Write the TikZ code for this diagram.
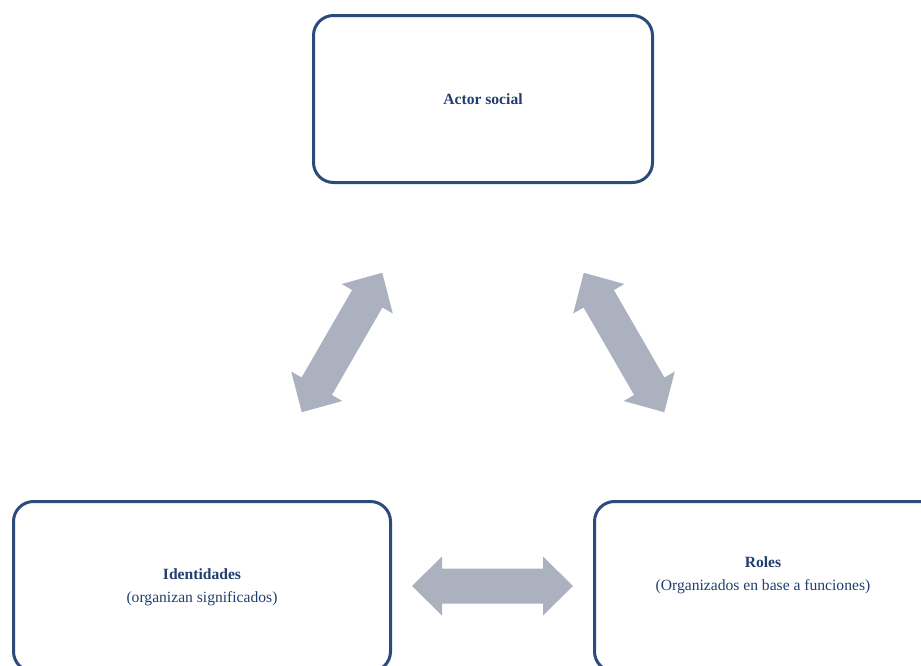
\documentclass[tikz,border=0pt]{standalone}
\usepackage{fontspec}
\setmainfont{Liberation Serif}
\definecolor{boxline}{HTML}{2C4B7B}
\definecolor{txt}{HTML}{213F6E}
\definecolor{arrowfill}{HTML}{ACB1BF}
\tikzset{
  roundbox/.style={draw=boxline, line width=3pt, rounded corners=20pt, fill=white, inner sep=0pt},
  lbl/.style={text=txt, align=center, font=\fontsize{15.6}{23}\selectfont, inner sep=0pt},
  dblarrow/.pic={
    \fill[arrowfill] (-80.5,0) -- (-50.5,29.5) -- (-50.5,17.5) -- (50.5,17.5) -- (50.5,29.5)
      -- (80.5,0) -- (50.5,-29.5) -- (50.5,-17.5) -- (-50.5,-17.5) -- (-50.5,-29.5) -- cycle;
  }
}
\begin{document}
\begin{tikzpicture}[x=1pt,y=1pt]
\useasboundingbox (0,0) rectangle (921,-665);
\clip (0,0) rectangle (921,-665);
% boxes
\node[roundbox, minimum width=339pt, minimum height=167pt] (actor) at (483,-99) {};
\node[roundbox, minimum width=377pt, minimum height=170pt] (ident) at (202,-586.5) {};
\node[roundbox, minimum width=380pt, minimum height=170pt] (roles) at (784.5,-586.5) {};
% texts
\node[lbl] (actorT) at (483,-99) {\textbf{Actor social}};
\node[lbl] (identT) at (202,-587) {\textbf{Identidades}\\(organizan significados)};
\node[lbl] (rolesT) at (763,-575) {\textbf{Roles}\\(Organizados en base a funciones)};
% double arrows
\pic[rotate=60] (arrL) at (342,-342.5) {dblarrow};
\pic[rotate=120] (arrR) at (624,-342.5) {dblarrow};
\pic (arrB) at (492.5,-586) {dblarrow};
\end{tikzpicture}
\end{document}
